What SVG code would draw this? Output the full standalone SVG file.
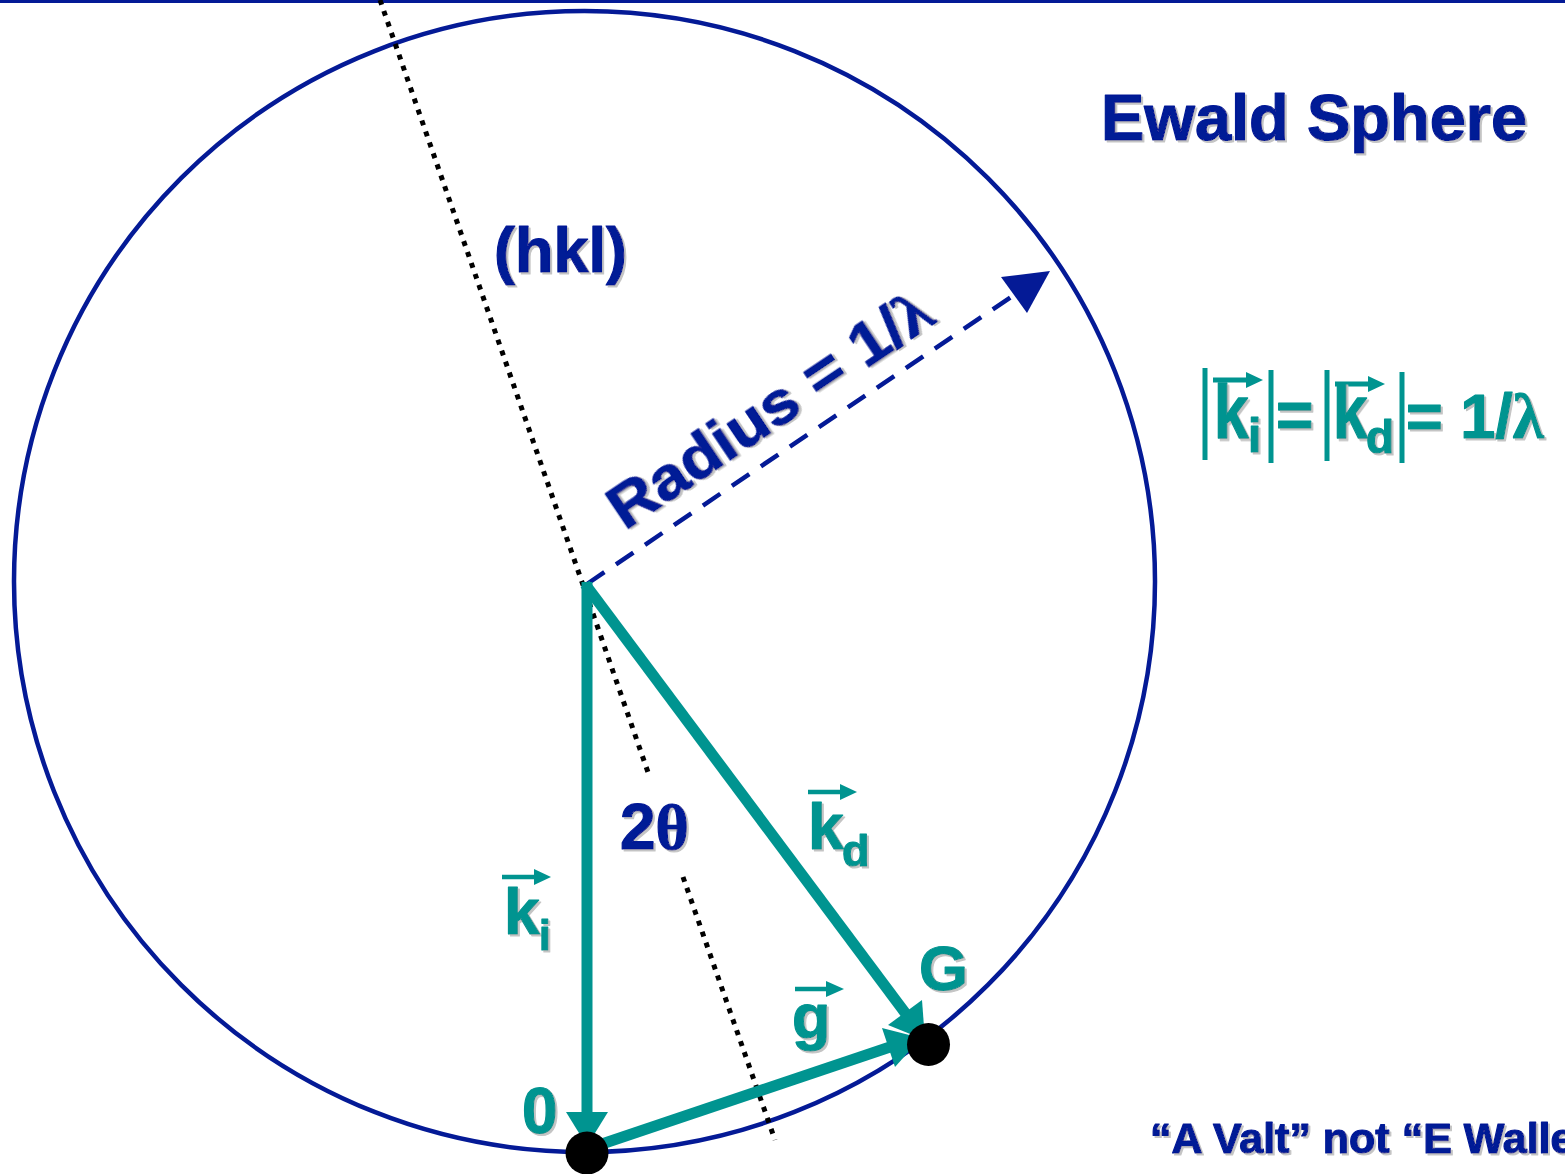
<svg xmlns="http://www.w3.org/2000/svg" width="1565" height="1174" viewBox="0 0 1565 1174">
<defs>
<style>
.navy{fill:#041a96;stroke:#041a96;}
.teal{fill:#009490;}
.t{font-family:"Liberation Sans",Arial,sans-serif;font-weight:bold;filter:url(#sh);stroke-width:1.2;stroke-linejoin:round;}
.t.teal{stroke:#009490;}
.ser{font-family:"Liberation Serif","Times New Roman",serif;font-weight:bold;}
.tl{stroke:#009490;fill:none;}
.dot{fill:#000;}
</style>
<filter id="sh" x="-10%" y="-10%" width="125%" height="130%">
<feDropShadow dx="2" dy="2" stdDeviation="0.6" flood-color="#c4c4c4" flood-opacity="1"/>
</filter>
</defs>
<rect width="1565" height="1174" fill="#fff"/>
<line x1="0" y1="1.5" x2="1565" y2="1.5" stroke="#041a96" stroke-width="3"/>
<g id="ewald-sphere">
<circle cx="584.5" cy="581.5" r="570.5" fill="none" stroke="#041a96" stroke-width="4.5"/>
</g>
<g id="connectors">
<g id="hkl-plane" stroke="#000" stroke-width="5" stroke-dasharray="5 6.6" fill="none">
<line x1="380" y1="0" x2="650" y2="778"/>
<line x1="683" y1="877" x2="775" y2="1140"/>
</g>
<g id="radius">
<line x1="587" y1="584" x2="1014" y2="295" stroke="#041a96" stroke-width="4.5" stroke-dasharray="21 14"/>
<polygon points="1050,271 1001,277 1027,313" fill="#041a96"/>
</g>
<g id="k-i-vector">
<line class="tl" x1="587" y1="582" x2="587" y2="1114" stroke-width="11"/>
<polygon class="teal" points="566,1112 608,1112 587,1146"/>
</g>
<g id="k-d-vector">
<line class="tl" x1="585" y1="584" x2="906" y2="1014" stroke-width="11"/>
<polygon class="teal" points="925,1040 922,1000 888,1025"/>
</g>
<g id="g-vector">
<line class="tl" x1="590" y1="1148" x2="890" y2="1047" stroke-width="11"/>
<polygon class="teal" points="921,1038 882,1028 895,1067"/>
</g>
</g>
<g id="point-O"><circle class="dot" cx="587" cy="1153" r="21.5"/></g>
<g id="point-G"><circle class="dot" cx="928.5" cy="1044.5" r="21.5"/></g>
<g id="title"><text class="t navy" x="1101" y="140" font-size="65">Ewald Sphere</text></g>
<g id="hkl-label"><text class="t navy" x="494" y="272" font-size="63">(hkl)</text></g>
<g id="radius-label"><text class="t navy" font-size="62" transform="translate(625,531) rotate(-33.9)" textLength="376" lengthAdjust="spacingAndGlyphs">Radius = 1/<tspan class="ser">λ</tspan></text></g>
<g id="two-theta-label"><text class="t navy" x="620" y="849" font-size="64">2<tspan class="ser" font-weight="normal">θ</tspan></text></g>
<g id="k-i-label">
<line x1="502" y1="877" x2="536" y2="877" stroke="#009490" stroke-width="4.5"/>
<polygon class="teal" points="534,869 551,877 534,885"/>
<text class="t teal" x="504" y="934" font-size="64">k</text>
<text class="t teal" x="539" y="950" font-size="42">i</text>
</g>
<g id="k-d-label">
<line x1="808" y1="792" x2="842" y2="792" stroke="#009490" stroke-width="4.5"/>
<polygon class="teal" points="840,784 857,792 840,800"/>
<text class="t teal" x="808" y="849" font-size="64">k</text>
<text class="t teal" x="842" y="866" font-size="45">d</text>
</g>
<g id="g-label">
<line x1="795" y1="989" x2="828" y2="989" stroke="#009490" stroke-width="4.5"/>
<polygon class="teal" points="826,981 844,989 826,997"/>
<text class="t teal" x="792" y="1038" font-size="63">g</text>
</g>
<g id="G-label"><text class="t teal" x="919" y="990" font-size="63">G</text></g>
<g id="O-label"><text class="t teal" x="522" y="1133" font-size="64">0</text></g>
<g id="equation">
<g stroke="#009490" stroke-width="5">
<line x1="1205" y1="368" x2="1205" y2="460"/>
<line x1="1271" y1="370" x2="1271" y2="463"/>
<line x1="1327" y1="370" x2="1327" y2="461"/>
<line x1="1402" y1="372" x2="1402" y2="463"/>
<line x1="1213" y1="380" x2="1248" y2="380"/>
<line x1="1335" y1="384" x2="1370" y2="384"/>
</g>
<polygon class="teal" points="1246,372 1263,380 1246,388"/>
<polygon class="teal" points="1368,376 1385,384 1368,392"/>
<text class="t teal" font-size="62" stroke-width="2" transform="translate(1214,438) scale(1,1.22)">k</text>
<text class="t teal" x="1248" y="452" font-size="48">i</text>
<text class="t teal" x="1276" y="437" font-size="64">=</text>
<text class="t teal" font-size="62" stroke-width="2" transform="translate(1333,438) scale(1,1.22)">k</text>
<text class="t teal" x="1366" y="453" font-size="46">d</text>
<text class="t teal" x="1406" y="438" font-size="63">= 1/<tspan class="ser">λ</tspan></text>
</g>
<g id="footnote"><text class="t navy" x="1150" y="1153" font-size="43">“A Valt” not “E Walle</text></g>
</svg>
